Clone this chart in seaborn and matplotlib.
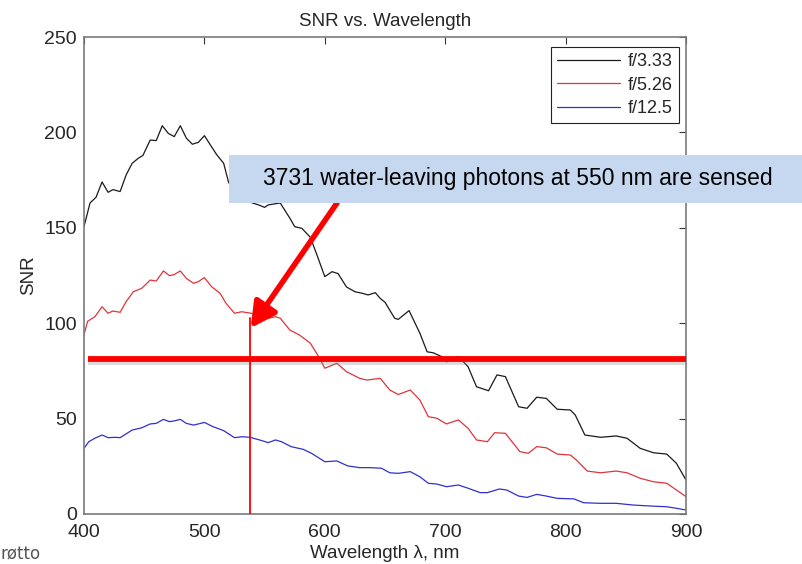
import matplotlib
matplotlib.use("Agg")
import matplotlib.pyplot as plt
import matplotlib.patheffects as pe
from matplotlib.patches import Rectangle
import numpy as np
import pandas as pd
import seaborn as sns

# SNR curves for three focal ratios
wl_f333 = [400, 405, 410, 415, 420, 424, 430, 435, 440, 445, 449, 455, 460, 465, 470,
           475, 480, 485, 490, 495, 500, 505, 510, 516, 520, 525, 532, 540, 545, 550,
           553, 563, 571, 575, 581, 588, 593, 600, 606, 611, 618, 625, 631, 636, 642,
           646, 650, 658, 661, 670, 679, 685, 690, 697, 701, 711, 719, 726, 736, 743,
           750, 761, 768, 776, 784, 793, 804, 808, 816, 829, 842, 851, 862, 873, 884,
           892, 900]
snr_f333 = [150.6, 163, 166, 174, 168.6, 170, 169, 177.7, 183.8, 186.4, 188, 196, 195.7,
            203.5, 199.5, 197.8, 203.5, 197, 193.8, 194.8, 198.3, 193.4, 188.5, 183.8,
            174, 168, 165, 163, 162, 160.7, 162, 163, 155, 150.6, 149.7, 145, 136.6,
            124.4, 127, 126, 119, 116.5, 115.7, 114.8, 116, 113, 111, 102.6, 102, 106.6,
            94.7, 85, 84.5, 82.5, 79.8, 82.5, 77.2, 66.7, 64.6, 72.9, 72, 56.2, 55.4,
            61.2, 60.6, 54.9, 54.5, 51.9, 41.4, 40.2, 40.9, 39.7, 34.4, 32.1, 31.4,
            26.6, 17.8]

wl_f526 = [400, 403, 409, 415, 420, 424, 430, 435, 441, 448, 455, 460, 466, 471, 475,
           480, 485, 491, 495, 500, 506, 513, 518, 525, 531, 539, 548, 553, 559, 563,
           571, 579, 588, 595, 600, 610, 618, 629, 635, 646, 654, 661, 671, 679, 686,
           693, 701, 711, 719, 726, 735, 741, 750, 762, 769, 776, 784, 793, 804, 809,
           818, 829, 842, 851, 862, 873, 884, 892, 900]
snr_f526 = [94, 101, 103.4, 108.6, 105.2, 106.4, 105.7, 111.3, 116.5, 118.3, 122.6, 122.1,
            127.4, 124.9, 125.5, 127.4, 123.5, 120.9, 121.8, 123.9, 119.1, 115.7, 110.4,
            105.2, 106, 105.2, 102.6, 102.6, 103.4, 102.6, 96.4, 93.8, 89.5, 82.4, 76.4,
            79, 74.6, 71.1, 70.2, 71.1, 65, 62.6, 65, 59.7, 51, 50.2, 47.2, 49.3, 44.9,
            38.8, 37.9, 42.6, 42.3, 32.7, 31.8, 35.3, 34.7, 31.4, 30.9, 28.3, 22.5, 21.6,
            22.5, 21.6, 18.7, 16.9, 16.1, 12.6, 9.1]

wl_f125 = [400, 404, 409, 415, 420, 426, 430, 440, 448, 455, 460, 466, 471, 475, 480,
           485, 491, 495, 500, 507, 516, 525, 531, 538, 548, 553, 559, 564, 572, 582,
           589, 600, 610, 619, 629, 637, 647, 654, 661, 671, 679, 686, 693, 701, 711,
           719, 729, 735, 745, 751, 761, 768, 776, 784, 793, 807, 815, 829, 842, 856,
           870, 884, 892, 900]
snr_f125 = [34.4, 37.9, 39.7, 41.4, 40, 40.2, 40, 44, 45.2, 47.2, 47.5, 49.6, 48.4, 48.8,
            49.6, 47.5, 46.6, 47.2, 48, 45.8, 43.7, 40, 40.5, 40.2, 38.4, 37.4, 38.8,
            37.9, 35.3, 33.9, 31.8, 27.4, 27.8, 25.2, 24.3, 24.3, 24, 21.6, 21.3, 22.2,
            19.5, 16.1, 15.7, 14.3, 15.2, 13.5, 11.2, 11.2, 13.1, 12.6, 9.4, 8.7, 10.3,
            9.4, 8.2, 7.9, 5.9, 5.6, 5.6, 4.7, 4.2, 3.8, 3, 2.1]

series_labels = ["f/3.33", "f/5.26", "f/12.5"]
series_colors = ["#1a1a1a", "#e0343a", "#3030d0"]

x_ticks = [400, 500, 600, 700, 800, 900]
y_ticks = [0, 50, 100, 150, 200, 250]

# Overlay markers
threshold_snr = 81
marker_wl = 538
marker_snr = 102.7
note_text = "3731 water-leaving photons at 550 nm are sensed"

df = pd.concat([
    pd.DataFrame({"wavelength": wl_f333, "snr": snr_f333, "aperture": series_labels[0]}),
    pd.DataFrame({"wavelength": wl_f526, "snr": snr_f526, "aperture": series_labels[1]}),
    pd.DataFrame({"wavelength": wl_f125, "snr": snr_f125, "aperture": series_labels[2]}),
], ignore_index=True)

sns.set_theme(style="white")
plt.rcParams["font.family"] = ["Liberation Sans", "DejaVu Sans"]

W, H = 803, 564
fig = plt.figure(figsize=(W / 100, H / 100), dpi=100)
ax = fig.add_axes([84 / W, 1 - 514 / H, (686 - 84) / W, (514 - 37) / H])

sns.lineplot(data=df, x="wavelength", y="snr", hue="aperture",
             hue_order=series_labels, palette=series_colors,
             linewidth=0.9, ax=ax, legend=True)

ax.set_xlim(400, 900)
ax.set_ylim(0, 250)
ax.set_xticks(x_ticks)
ax.set_yticks(y_ticks)
ax.tick_params(direction="in", length=5, width=0.8, color="#333333",
               labelsize=14, top=True, right=True,
               labeltop=False, labelright=False)
ax.tick_params(axis="x", pad=7)
ax.tick_params(axis="y", pad=5)
for s in ax.spines.values():
    s.set_color("#7a7a7a")
    s.set_linewidth(1.2)

ax.set_title("SNR vs. Wavelength", fontsize=13.5, pad=8)
ax.set_xlabel("Wavelength λ, nm", fontsize=13.5, labelpad=3)
ax.set_ylabel("SNR", fontsize=13.5, labelpad=5)

handles, labels = ax.get_legend_handles_labels()
leg = ax.legend(handles, labels, loc="upper right",
                bbox_to_anchor=(679 / W, 1 - 47 / H), bbox_transform=fig.transFigure,
                borderaxespad=0, fontsize=13, frameon=True, fancybox=False,
                edgecolor="#222222", handlelength=3.5, handletextpad=0.4,
                labelspacing=0.35, borderpad=0.35)
leg.get_frame().set_linewidth(0.8)
leg.get_frame().set_alpha(1)

# Threshold line with a soft drop shadow
ax.plot([403, 900], [threshold_snr, threshold_snr], color="#ff0000", linewidth=4.2,
        solid_capstyle="butt", zorder=5,
        path_effects=[pe.SimpleLineShadow(offset=(0.5, -1.8), shadow_color="#888888", alpha=0.3),
                      pe.Normal()])

# Vertical marker down to the axis
ax.plot([marker_wl, marker_wl], [0, marker_snr], color="#ff0000", linewidth=1.3, zorder=5)

# Callout box
fig.patches.append(Rectangle((229 / W, 1 - 203 / H), (W - 229) / W, 48 / H,
                             transform=fig.transFigure, facecolor="#c6d8ef",
                             edgecolor="none", zorder=10))
fig.text(263 / W, 1 - 179 / H, note_text, fontsize=16.5, color="black",
         ha="left", va="center", zorder=11)

# Arrow from the callout to the marker
ax.annotate("", xy=(marker_wl + 0.5, 97.5), xycoords="data",
            xytext=(337 / W, 1 - 203 / H), textcoords="figure fraction",
            arrowprops=dict(arrowstyle="-|>,head_length=0.75,head_width=0.4",
                            color="#ff0000", lw=4, shrinkA=0, shrinkB=0,
                            mutation_scale=20),
            zorder=12, annotation_clip=False)

fig.text(0.0, 1 / H, "røtto", fontsize=12, color="#555555",
         ha="left", va="bottom", family=["DejaVu Sans"])

fig.savefig("out.png", dpi=100)
